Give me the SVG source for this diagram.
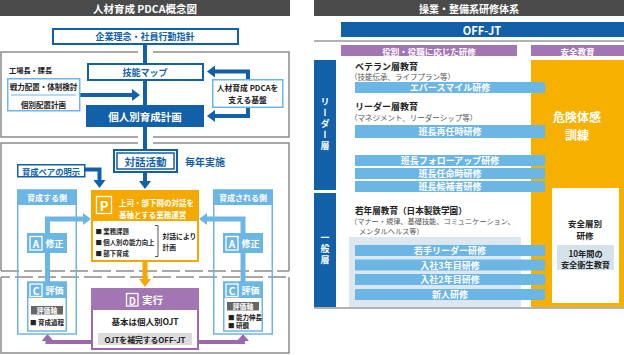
<svg xmlns="http://www.w3.org/2000/svg" width="624" height="355" viewBox="0 0 624 355">
<style>
text{font-family:"Noto Sans CJK JP","Noto Sans",sans-serif;font-weight:bold;dominant-baseline:central}
.c{text-anchor:middle}
.w{fill:#fff}
.b{fill:#1160a8}
.k{fill:#222}
.g{fill:#555;font-weight:normal}
.frame{fill:none;stroke:#8c8c8c;stroke-width:1.5}
.dash{stroke:#8c8c8c;stroke-width:1.5;stroke-dasharray:18 5}
.bluebox{fill:#fff;stroke:#1160a8;stroke-width:2}
.lbbox{fill:#fff;stroke:#6cb6e6;stroke-width:1.5}
.lb{fill:#6cb6e6}
.bar{fill:#6cb6e6}
.pur{fill:#a276b3}
.cb{fill:none;stroke:#1160a8;stroke-width:4}
.cl{fill:none;stroke:#6cb6e6;stroke-width:5}
.co{fill:none;stroke:#f5a900;stroke-width:5}
.cp{fill:none;stroke:#9a6aab;stroke-width:4}
.sq{fill:none;stroke:#fff;stroke-width:1.3}
.vt{writing-mode:vertical-rl;text-orientation:upright;letter-spacing:2px}
</style>
<defs>
<marker id="ab" viewBox="0 -6 8 12" refX="0" refY="0" markerWidth="8" markerHeight="12" markerUnits="userSpaceOnUse" orient="auto"><path d="M0,-6L8,0L0,6z" fill="#1160a8"/></marker>
<marker id="al" viewBox="0 -6 8 12" refX="0" refY="0" markerWidth="8" markerHeight="12" markerUnits="userSpaceOnUse" orient="auto"><path d="M0,-6L8,0L0,6z" fill="#6cb6e6"/></marker>
<marker id="ao" viewBox="0 -6 8 12" refX="0" refY="0" markerWidth="8" markerHeight="12" markerUnits="userSpaceOnUse" orient="auto"><path d="M0,-6L8,0L0,6z" fill="#f5a900"/></marker>
<marker id="ap" viewBox="0 -6 7 12" refX="0" refY="0" markerWidth="7" markerHeight="12" markerUnits="userSpaceOnUse" orient="auto"><path d="M0,-6L7,0L0,6z" fill="#9a6aab"/></marker>
</defs>

<!-- LEFT PANEL -->
<g id="left-title">
<rect x="0" y="0" width="290" height="16" fill="#4b4b4b"/>
<text class="c w" x="145" y="8.5" font-size="10.5">人材育成 PDCA概念図</text>
</g>
<g id="frames">
<path class="frame" d="M138,52H1V137H138M153,52H289V137H153"/>
<path class="frame" d="M138,143H1V271M153,143H289V271"/>
<line class="dash" x1="1" y1="271" x2="289" y2="271"/>
<path class="frame" d="M1,277V353H289V277"/>
<line class="dash" x1="1" y1="277" x2="289" y2="277" stroke-dashoffset="9"/>
</g>

<g id="connectors">
<path class="cb" d="M145,44V63"/>
<path class="cb" d="M145,80V105"/>
<path class="cb" d="M80,95H132" marker-end="url(#ab)"/>
<path class="cb" d="M248,79V71.5H215" marker-end="url(#ab)"/>
<path class="cb" d="M248,107V116H215" marker-end="url(#ab)"/>
<path class="cb" d="M145,127V181" marker-end="url(#ab)"/>
<path class="cb" d="M85,169.5H99.5V180" marker-end="url(#ab)"/>
<path class="cl" d="M47.5,233V219H83" marker-end="url(#al)"/>
<path class="cl" d="M47.5,253V282"/>
<path class="cl" d="M243,233V219H207" marker-end="url(#al)"/>
<path class="cl" d="M243,253V282"/>
<path class="co" d="M145,262V279" marker-end="url(#ao)"/>
<path class="cp" d="M91,342H47.5V341" marker-end="url(#ap)"/>
<path class="cp" d="M199,342H243V341" marker-end="url(#ap)"/>
</g>

<g id="kigyo">
<rect class="bluebox" x="53" y="29" width="185" height="15"/>
<text class="c b" x="145" y="36.5" font-size="9">企業理念・社員行動指針</text>
</g>
<g id="kojocho">
<text class="k" x="9" y="70" font-size="7.2">工場長・課長</text>
<rect class="lbbox" x="7.75" y="78.75" width="72" height="32"/>
<text class="c k" x="43.5" y="86.5" font-size="7.5">戦力配置・体制検討</text>
<line x1="11" y1="95" x2="76" y2="95" stroke="#6cb6e6" stroke-width="1"/>
<text class="c k" x="43.5" y="104" font-size="7.5">個別配置計画</text>
</g>
<g id="ginou">
<rect class="bluebox" x="88" y="64" width="115" height="16"/>
<text class="c b" x="145" y="72" font-size="9">技能マップ</text>
</g>
<g id="kojinbetsu">
<rect x="86" y="105" width="118" height="22" fill="#1160a8"/>
<text class="c w" x="145" y="116.5" font-size="10.5">個人別育成計画</text>
</g>
<g id="kiban">
<rect class="lbbox" x="212.75" y="79.75" width="70" height="27.5"/>
<text class="c k" x="247.5" y="87.5" font-size="7.8">人材育成 PDCAを</text>
<text class="c k" x="247.5" y="99" font-size="7.8">支える基盤</text>
</g>
<g id="taiwa">
<rect class="bluebox" x="114" y="150" width="63" height="22"/>
<rect x="117" y="153" width="57" height="16" fill="none" stroke="#1160a8" stroke-width="1.5"/>
<text class="c b" x="145.5" y="161" font-size="10.5">対話活動</text>
<text class="b" x="185" y="161" font-size="10">毎年実施</text>
</g>
<g id="pair">
<rect x="17.75" y="164.75" width="67" height="12" fill="#fff" stroke="#1160a8" stroke-width="1.5"/>
<text class="c b" x="51" y="170.8" font-size="8.3">育成ペアの明示</text>
</g>
<g id="plan">
<rect x="92" y="191" width="106" height="70" fill="#fff" stroke="#f5a900" stroke-width="2"/>
<rect x="91" y="190" width="108" height="31" fill="#f5a900"/>
<rect class="sq" x="96.5" y="196.5" width="15" height="17"/>
<text class="c w" x="104" y="205.5" font-size="13">P</text>
<text class="w" x="119" y="202" font-size="7.5">上司・部下間の対話を</text>
<text class="w" x="119" y="214" font-size="7.5">基軸とする業務運営</text>
<text class="k" x="95.5" y="231" font-size="6.4">■ 業務課題</text>
<text class="k" x="95.5" y="242" font-size="6.4">■ 個人別の能力向上</text>
<text class="k" x="95.5" y="253" font-size="6.4">■ 部下育成</text>
<path d="M155,225.5H158V256.5H155" fill="none" stroke="#555" stroke-width="1"/>
<text class="k" x="162.5" y="236" font-size="6.8">対話により</text>
<text class="k" x="162.5" y="247" font-size="6.8">計画</text>
</g>
<g id="do">
<rect x="92" y="289" width="106" height="60" fill="#fff" stroke="#9a6aab" stroke-width="2"/>
<rect x="91" y="288" width="108" height="22" class="pur"/>
<rect class="sq" x="126.5" y="293.5" width="11.5" height="12.5"/>
<text class="c w" x="132.3" y="300" font-size="10">D</text>
<text class="w" x="142" y="299.5" font-size="10.5">実行</text>
<text class="c k" x="145" y="321" font-size="8.5">基本は個人別OJT</text>
<rect x="98" y="333" width="94" height="12" fill="#dcdcdc"/>
<text class="c k" x="145" y="339" font-size="7.8">OJTを補完するOFF-JT</text>
</g>
<g id="ikusei-suru">
<rect class="lb" x="17" y="190" width="60" height="15"/>
<rect x="17.75" y="190" width="58.5" height="144" fill="none" stroke="#6cb6e6" stroke-width="1.5"/>
<text class="c w" x="47" y="197.5" font-size="8">育成する側</text>
<rect class="lb" x="27" y="233" width="40" height="20"/>
<rect class="sq" x="30" y="236.5" width="12" height="13.5"/>
<text class="c w" x="36" y="243.5" font-size="10">A</text>
<text class="w" x="45.5" y="243.5" font-size="9">修正</text>
<rect x="27.75" y="282" width="38.5" height="49" fill="#fff" stroke="#6cb6e6" stroke-width="1.5"/>
<rect class="lb" x="27" y="282" width="40" height="16"/>
<rect class="sq" x="30" y="284" width="12" height="12.5"/>
<text class="c w" x="36" y="290.5" font-size="10">C</text>
<text class="w" x="45.5" y="290.5" font-size="9">評価</text>
<rect x="31" y="306" width="32" height="8.5" fill="#666"/>
<text class="c w" x="47" y="310.3" font-size="6.8">評価軸</text>
<text class="c k" x="47" y="322" font-size="6.5">■ 育成過程</text>
</g>
<g id="ikusei-sareru">
<rect class="lb" x="213" y="190" width="60" height="15"/>
<rect x="213.75" y="190" width="58.5" height="144" fill="none" stroke="#6cb6e6" stroke-width="1.5"/>
<text class="c w" x="243" y="197.5" font-size="8">育成される側</text>
<rect class="lb" x="223" y="233" width="40" height="20"/>
<rect class="sq" x="226" y="236.5" width="12" height="13.5"/>
<text class="c w" x="232" y="243.5" font-size="10">A</text>
<text class="w" x="241.5" y="243.5" font-size="9">修正</text>
<rect x="223.75" y="282" width="38.5" height="49" fill="#fff" stroke="#6cb6e6" stroke-width="1.5"/>
<rect class="lb" x="223" y="282" width="40" height="16"/>
<rect class="sq" x="226" y="284" width="12" height="12.5"/>
<text class="c w" x="232" y="290.5" font-size="10">C</text>
<text class="w" x="241.5" y="290.5" font-size="9">評価</text>
<rect x="227" y="302" width="32" height="8.5" fill="#666"/>
<text class="c w" x="243" y="306.3" font-size="6.8">評価軸</text>
<text class="k" x="228" y="316.5" font-size="6.5">■ 能力伸長</text>
<text class="k" x="228" y="325" font-size="6.5">■ 研鑽</text>
</g>

<!-- RIGHT PANEL -->
<g id="right-title">
<rect x="314" y="0" width="310" height="16" fill="#4b4b4b"/>
<text class="c w" x="469" y="8.5" font-size="10">操業・整備系研修体系</text>
</g>
<g id="offjt">
<rect x="341" y="22" width="283" height="15" fill="#1160a8"/>
<text class="c w" x="482" y="29.5" font-size="11">OFF-JT</text>
<line x1="314" y1="41" x2="624" y2="41" stroke="#999" stroke-width="1.5"/>
</g>
<g id="heads">
<rect class="pur" x="341" y="45" width="176" height="11"/>
<text class="c w" x="429" y="50.5" font-size="8.5">役割・役職に応じた研修</text>
<rect class="pur" x="531" y="45" width="93" height="11"/>
<text class="c w" x="577.5" y="50.5" font-size="8.5">安全教育</text>
</g>
<g id="leader-side">
<rect x="314" y="60" width="22" height="130" fill="#1160a8"/>
<text class="c w vt" x="325" y="125" font-size="9">リーダー層</text>
</g>
<g id="ippan-side">
<rect x="314" y="193" width="22" height="114" fill="#1160a8"/>
<text class="c w vt" x="325" y="250" font-size="9">一般層</text>
</g>
<g id="safety">
<rect x="531" y="60" width="93" height="247" fill="#f6b100"/>
<text class="c w" x="577" y="116.5" font-size="12">危険体感</text>
<text class="c w" x="577" y="134" font-size="12">訓練</text>
<rect x="552" y="188" width="67" height="115" fill="#fff"/>
<text class="c k" x="585" y="223" font-size="8.5">安全層別</text>
<text class="c k" x="585" y="235" font-size="8.5">研修</text>
<rect x="557" y="245" width="57" height="25" fill="#d5e2ec"/>
<text class="c k" x="585.5" y="252.5" font-size="8.2">10年間の</text>
<text class="c k" x="585.5" y="263.5" font-size="8.2">安全衛生教育</text>
</g>
<g id="veteran">
<text class="k" x="355" y="66" font-size="9">ベテラン層教育</text>
<text class="g" x="350" y="76.5" font-size="7.5">（技能伝承、ライフプラン等）</text>
<rect class="bar" x="355" y="82" width="190" height="11"/>
<text class="c w" x="450" y="87.5" font-size="9">エバースマイル研修</text>
</g>
<g id="leader">
<text class="k" x="355" y="106" font-size="9">リーダー層教育</text>
<text class="g" x="350" y="117" font-size="7.5">（マネジメント、リーダーシップ等）</text>
<rect class="bar" x="355" y="125" width="190" height="13"/>
<text class="c w" x="450" y="131.5" font-size="9">班長再任時研修</text>
<rect class="bar" x="355" y="155" width="190" height="11"/>
<text class="c w" x="450" y="160.5" font-size="9">班長フォローアップ研修</text>
<rect class="bar" x="355" y="168" width="190" height="11"/>
<text class="c w" x="450" y="173.5" font-size="9">班長任命時研修</text>
<rect class="bar" x="355" y="181" width="190" height="11"/>
<text class="c w" x="450" y="186.5" font-size="9">班長候補者研修</text>
</g>
<g id="young">
<text class="k" x="355" y="210" font-size="8.6">若年層教育（日本製鉄学園）</text>
<text class="g" x="350" y="221" font-size="7.2">（マナー・規律、基礎技能、コミュニケーション、</text>
<text class="g" x="359" y="231" font-size="7.2">メンタルヘルス等）</text>
<rect x="349" y="237" width="172" height="70" fill="#dde7ef"/>
<rect class="bar" x="355" y="245" width="190" height="11"/>
<text class="c w" x="450" y="250.5" font-size="9">若手リーダー研修</text>
<rect class="bar" x="355" y="259.5" width="190" height="11"/>
<text class="c w" x="450" y="265" font-size="9">入社3年目研修</text>
<rect class="bar" x="355" y="274" width="190" height="11"/>
<text class="c w" x="450" y="279.5" font-size="9">入社2年目研修</text>
<rect class="bar" x="355" y="289" width="190" height="11"/>
<text class="c w" x="450" y="294.5" font-size="9">新人研修</text>
<line x1="314" y1="308" x2="624" y2="308" stroke="#999" stroke-width="1.5"/>
</g>
</svg>
